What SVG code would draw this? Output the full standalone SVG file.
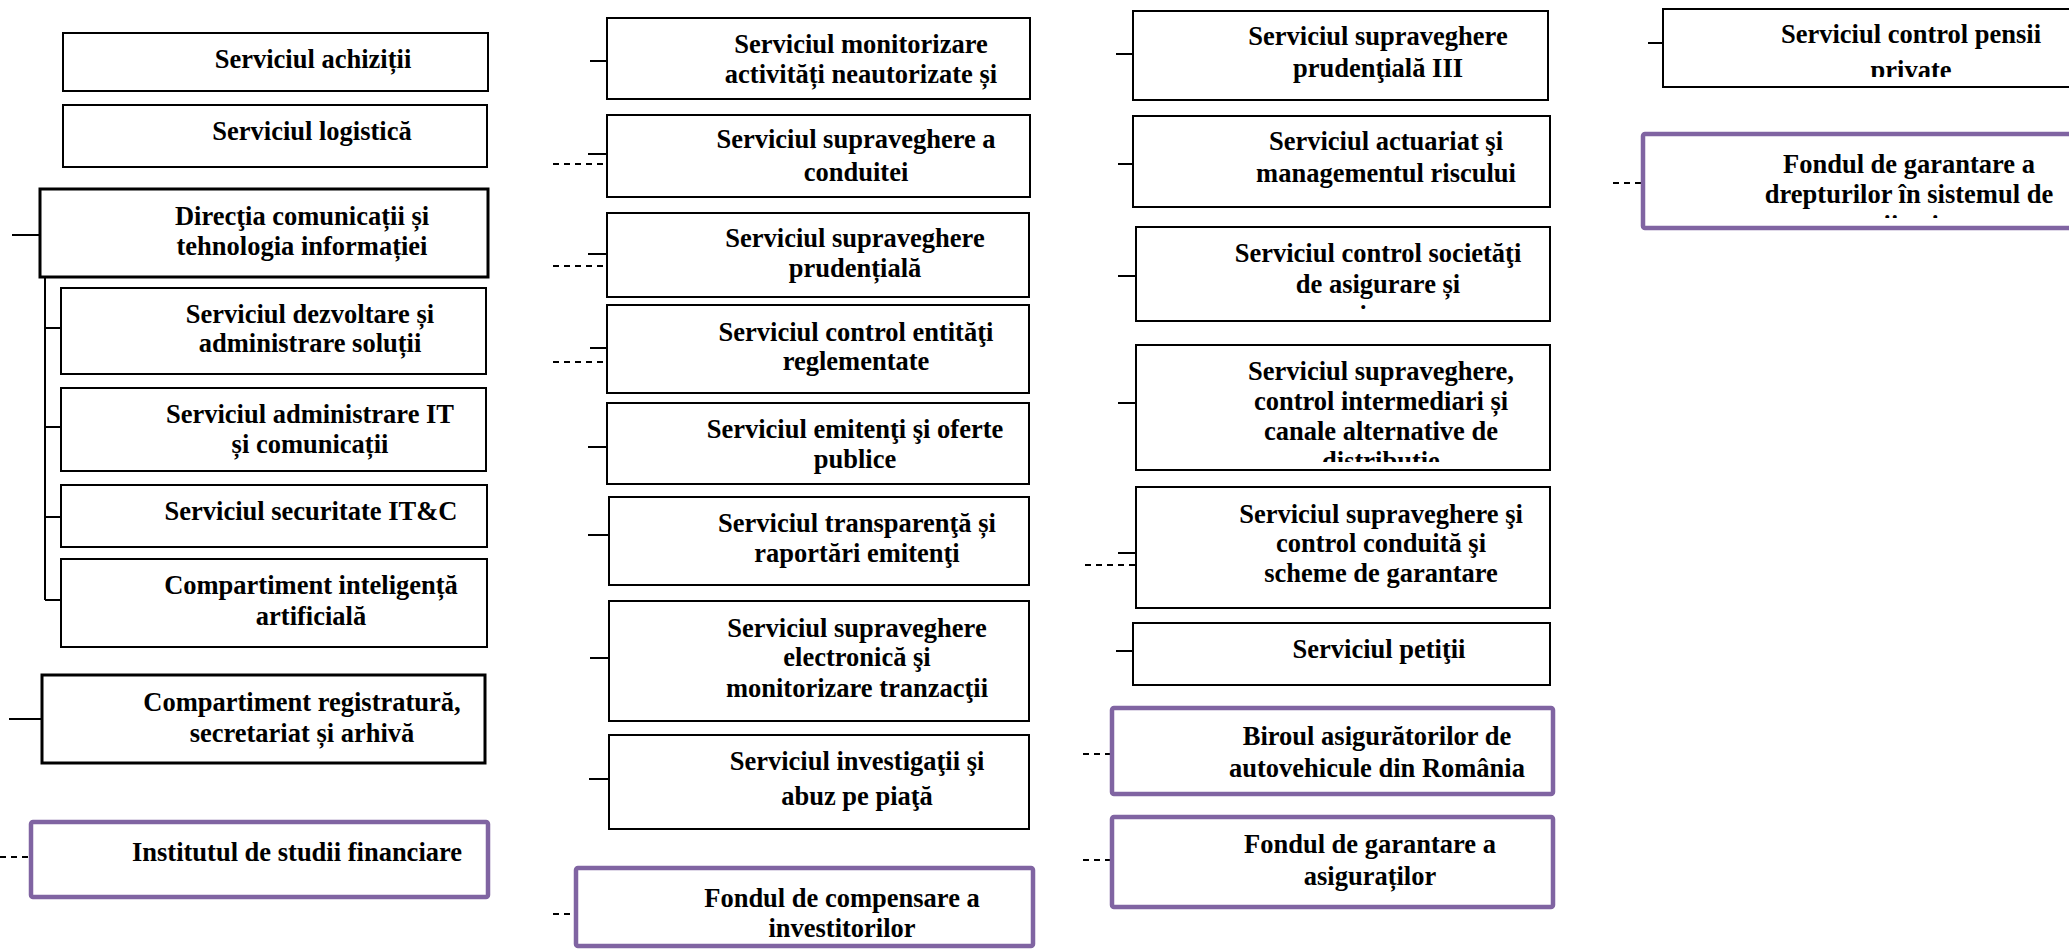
<svg xmlns="http://www.w3.org/2000/svg" width="2069" height="949" viewBox="0 0 2069 949">
<style>
.b{fill:#fff;stroke:#000;stroke-width:2}
.bt{fill:#fff;stroke:#000;stroke-width:3}
.p{fill:#fff;stroke:#8064A2;stroke-width:4.5}
text{font-family:"Liberation Serif","Times New Roman",serif;font-weight:bold;font-size:26.5px;fill:#000;text-anchor:middle}
.s{stroke:#000;stroke-width:2;fill:none}
.d{stroke:#000;stroke-width:2;fill:none;stroke-dasharray:6 5}
</style>
<defs>
<clipPath id="c1"><rect x="1136" y="227" width="414" height="82"/></clipPath>
<clipPath id="c2"><rect x="1136" y="345" width="414" height="117"/></clipPath>
<clipPath id="c3"><rect x="1663" y="9" width="420" height="68"/></clipPath>
<clipPath id="c4"><rect x="1643" y="134" width="440" height="84"/></clipPath>
</defs>
<rect width="2069" height="949" fill="#fff"/>
<g id="connectors">
<line class="s" x1="12" y1="235" x2="40" y2="235"/>
<line class="s" x1="45" y1="277" x2="45" y2="600"/>
<line class="s" x1="44" y1="328" x2="61" y2="328"/>
<line class="s" x1="44" y1="427" x2="61" y2="427"/>
<line class="s" x1="44" y1="517" x2="61" y2="517"/>
<line class="s" x1="45" y1="600" x2="61" y2="600"/>
<line class="s" x1="9" y1="719" x2="42" y2="719"/>
<line class="d" x1="0" y1="857" x2="31" y2="857"/>
<line class="s" x1="590" y1="61" x2="607" y2="61"/>
<line class="s" x1="588" y1="154" x2="607" y2="154"/>
<line class="d" x1="553" y1="164" x2="607" y2="164"/>
<line class="s" x1="588" y1="254" x2="607" y2="254"/>
<line class="d" x1="553" y1="266" x2="607" y2="266"/>
<line class="s" x1="590" y1="348" x2="607" y2="348"/>
<line class="d" x1="553" y1="362" x2="607" y2="362"/>
<line class="s" x1="588" y1="447" x2="607" y2="447"/>
<line class="s" x1="588" y1="535" x2="609" y2="535"/>
<line class="s" x1="590" y1="658" x2="609" y2="658"/>
<line class="s" x1="589" y1="779" x2="609" y2="779"/>
<line class="d" x1="553" y1="914" x2="576" y2="914"/>
<line class="s" x1="1116" y1="54" x2="1133" y2="54"/>
<line class="s" x1="1118" y1="164" x2="1133" y2="164"/>
<line class="s" x1="1118" y1="276" x2="1136" y2="276"/>
<line class="s" x1="1118" y1="403" x2="1136" y2="403"/>
<line class="s" x1="1118" y1="553" x2="1136" y2="553"/>
<line class="d" x1="1085" y1="565" x2="1136" y2="565"/>
<line class="s" x1="1116" y1="651" x2="1133" y2="651"/>
<line class="d" x1="1083" y1="754" x2="1112" y2="754"/>
<line class="d" x1="1083" y1="860" x2="1112" y2="860"/>
<line class="s" x1="1648" y1="43" x2="1663" y2="43"/>
<line class="d" x1="1613" y1="183" x2="1643" y2="183"/>
</g>
<g id="n-achizitii"><rect class="b" x="63" y="33" width="425" height="58"/><text x="313" y="68">Serviciul achiziții</text></g>
<g id="n-logistica"><rect class="b" x="63" y="105" width="424" height="62"/><text x="312" y="140">Serviciul logistică</text></g>
<g id="n-directia"><rect class="bt" x="40" y="189" width="448" height="88"/><text x="302" y="225">Direcţia comunicații și</text><text x="302" y="255">tehnologia informației</text></g>
<g id="n-dezvoltare"><rect class="b" x="61" y="288" width="425" height="86"/><text x="310" y="323">Serviciul dezvoltare și</text><text x="310" y="352">administrare soluții</text></g>
<g id="n-adminit"><rect class="b" x="61" y="388" width="425" height="83"/><text x="310" y="423">Serviciul administrare IT</text><text x="310" y="453">și comunicații</text></g>
<g id="n-securitate"><rect class="b" x="61" y="485" width="426" height="62"/><text x="311" y="520">Serviciul securitate IT&amp;C</text></g>
<g id="n-ia"><rect class="b" x="61" y="559" width="426" height="88"/><text x="311" y="594">Compartiment inteligență</text><text x="311" y="625">artificială</text></g>
<g id="n-registratura"><rect class="bt" x="42" y="675" width="443" height="88"/><text x="302" y="711">Compartiment registratură,</text><text x="302" y="742">secretariat și arhivă</text></g>
<g id="n-institutul"><rect class="p" x="31" y="822" width="457" height="75" rx="2"/><text x="297" y="861">Institutul de studii financiare</text></g>
<g id="n-monitorizare"><rect class="b" x="607" y="18" width="423" height="81"/><text x="861" y="53">Serviciul monitorizare</text><text x="861" y="83">activități neautorizate și</text></g>
<g id="n-conduitei"><rect class="b" x="607" y="115" width="423" height="82"/><text x="856" y="148">Serviciul supraveghere a</text><text x="856" y="181">conduitei</text></g>
<g id="n-prudentiala"><rect class="b" x="607" y="213" width="422" height="84"/><text x="855" y="247">Serviciul supraveghere</text><text x="855" y="277">prudențială</text></g>
<g id="n-control-entitati"><rect class="b" x="607" y="305" width="422" height="88"/><text x="856" y="341">Serviciul control entităţi</text><text x="856" y="370">reglementate</text></g>
<g id="n-emitenti"><rect class="b" x="607" y="403" width="422" height="81"/><text x="855" y="438">Serviciul emitenţi şi oferte</text><text x="855" y="468">publice</text></g>
<g id="n-transparenta"><rect class="b" x="609" y="497" width="420" height="88"/><text x="857" y="532">Serviciul transparenţă și</text><text x="857" y="562">raportări emitenţi</text></g>
<g id="n-electronica"><rect class="b" x="609" y="601" width="420" height="120"/><text x="857" y="637">Serviciul supraveghere</text><text x="857" y="666">electronică şi</text><text x="857" y="697">monitorizare tranzacţii</text></g>
<g id="n-investigatii"><rect class="b" x="609" y="735" width="420" height="94"/><text x="857" y="770">Serviciul investigaţii şi</text><text x="857" y="805">abuz pe piaţă</text></g>
<g id="n-fond-compensare"><rect class="p" x="576" y="868" width="457" height="78" rx="2"/><text x="842" y="907">Fondul de compensare a</text><text x="842" y="937">investitorilor</text></g>
<g id="n-prudentiala-iii"><rect class="b" x="1133" y="11" width="415" height="89"/><text x="1378" y="45">Serviciul supraveghere</text><text x="1378" y="77">prudenţială III</text></g>
<g id="n-actuariat"><rect class="b" x="1133" y="116" width="417" height="91"/><text x="1386" y="150">Serviciul actuariat şi</text><text x="1386" y="182">managementul riscului</text></g>
<g id="n-control-societati"><rect class="b" x="1136" y="227" width="414" height="94"/><g clip-path="url(#c1)"><text x="1378" y="262">Serviciul control societăţi</text><text x="1378" y="293">de asigurare și</text><text x="1378" y="324">reasigurare</text></g></g>
<g id="n-intermediari"><rect class="b" x="1136" y="345" width="414" height="125"/><g clip-path="url(#c2)"><text x="1381" y="380">Serviciul supraveghere,</text><text x="1381" y="410">control intermediari și</text><text x="1381" y="440">canale alternative de</text><text x="1381" y="470">distribuție</text></g></g>
<g id="n-conduita"><rect class="b" x="1136" y="487" width="414" height="121"/><text x="1381" y="523">Serviciul supraveghere şi</text><text x="1381" y="552">control conduită şi</text><text x="1381" y="582">scheme de garantare</text></g>
<g id="n-petitii"><rect class="b" x="1133" y="623" width="417" height="62"/><text x="1379" y="658">Serviciul petiţii</text></g>
<g id="n-biroul"><rect class="p" x="1112" y="708" width="441" height="86" rx="2"/><text x="1377" y="745">Biroul asigurătorilor de</text><text x="1377" y="777">autovehicule din România</text></g>
<g id="n-fond-asigurati"><rect class="p" x="1112" y="817" width="441" height="90" rx="2"/><text x="1370" y="853">Fondul de garantare a</text><text x="1370" y="885">asiguraților</text></g>
<g id="n-pensii"><rect class="b" x="1663" y="9" width="425" height="78"/><g clip-path="url(#c3)"><text x="1911" y="43">Serviciul control pensii</text><text x="1911" y="79">private</text></g></g>
<g id="n-fond-pensii"><rect class="p" x="1643" y="134" width="450" height="94" rx="2"/><g clip-path="url(#c4)"><text x="1909" y="173">Fondul de garantare a</text><text x="1909" y="203">drepturilor în sistemul de</text><text x="1909" y="234">pensii private</text></g></g>
</svg>
